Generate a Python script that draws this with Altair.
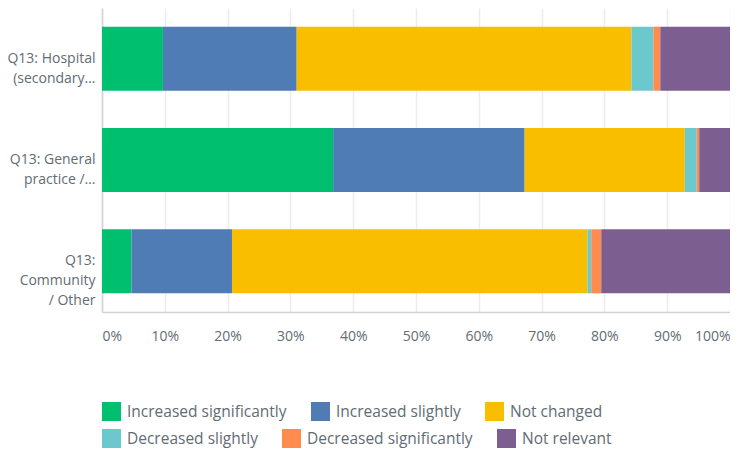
import altair as alt
import pandas as pd

questions = ["Q13: Hospital|(secondary…", "Q13: General|practice /…", "Q13:|Community|/ Other"]
categories = ["Increased significantly", "Increased slightly", "Not changed",
              "Decreased slightly", "Decreased significantly", "Not relevant"]
colors = ["#00BF6F", "#507CB6", "#F9BE00", "#6BC8CD", "#FF8B4F", "#7D5E90"]

hospital = [9.7, 21.3, 53.3, 3.5, 1.1, 11.1]
general = [36.8, 30.5, 25.5, 1.9, 0.4, 4.9]
community = [4.7, 16.0, 56.6, 0.6, 1.6, 20.5]
x_ticks = [0, 10, 20, 30, 40, 50, 60, 70, 80, 90, 100]

rows = []
for q, vals in zip(questions, [hospital, general, community]):
    for i, (c, v) in enumerate(zip(categories, vals)):
        rows.append({"question": q, "category": c, "value": v, "order": i})
df = pd.DataFrame(rows)

FONT = "Open Sans"
TEXT = "#626c73"

y_enc = alt.Y("question:N", sort=questions, title=None,
              scale=alt.Scale(paddingInner=0.368, paddingOuter=0.184),
              axis=alt.Axis(labelExpr="split(datum.label, '|')", labelFontSize=14,
                            labelColor=TEXT, labelFont=FONT, labelPadding=7,
                            labelLineHeight=20, ticks=False, domainColor="#d3d3d3",
                            domainWidth=1.5, labelLimit=200))
x_enc = alt.X("x_start:Q", title=None,
              scale=alt.Scale(domain=[0, 100], nice=False),
              axis=alt.Axis(values=x_ticks, labelExpr="datum.value + '%'",
                            labelFontSize=14, labelColor=TEXT, labelFont=FONT,
                            labelPadding=17, ticks=False, labelFlush=True,
                            grid=True, gridColor="#ececec", gridWidth=1.5,
                            domainColor="#d3d3d3", domainWidth=1.5))

def legend(y):
    return alt.Legend(title=None, orient="none", legendX=0, legendY=y,
                      direction="horizontal", symbolType="square", symbolSize=361,
                      symbolStrokeWidth=0, labelFontSize=15.5, labelColor=TEXT,
                      labelFont=FONT, labelLimit=300, columnPadding=24,
                      symbolOffset=0, labelOffset=6)

base = alt.Chart(df).transform_window(
    x_end="sum(value)", groupby=["question"], sort=[{"field": "order"}], frame=[None, 0]
).transform_calculate(x_start="datum.x_end - datum.value")

top = base.transform_filter("datum.order < 3").mark_bar().encode(
    y=y_enc, x=x_enc, x2="x_end:Q",
    color=alt.Color("category:N", sort=categories[:3],
                    scale=alt.Scale(domain=categories[:3], range=colors[:3]),
                    legend=legend(394)),
)
bottom = base.transform_filter("datum.order >= 3").mark_bar().encode(
    y=y_enc, x=x_enc, x2="x_end:Q",
    fill=alt.Fill("category:N", sort=categories[3:],
                  scale=alt.Scale(domain=categories[3:], range=colors[3:]),
                  legend=legend(421)),
)

chart = alt.layer(top, bottom).properties(
    width=628, height=304,
    autosize=alt.AutoSizeParams(type="none"),
    padding={"left": 94, "top": 0, "right": 0, "bottom": 140},
).configure_view(stroke=None)

chart.save("out.html", embed_options={"renderer": "svg", "actions": False})
